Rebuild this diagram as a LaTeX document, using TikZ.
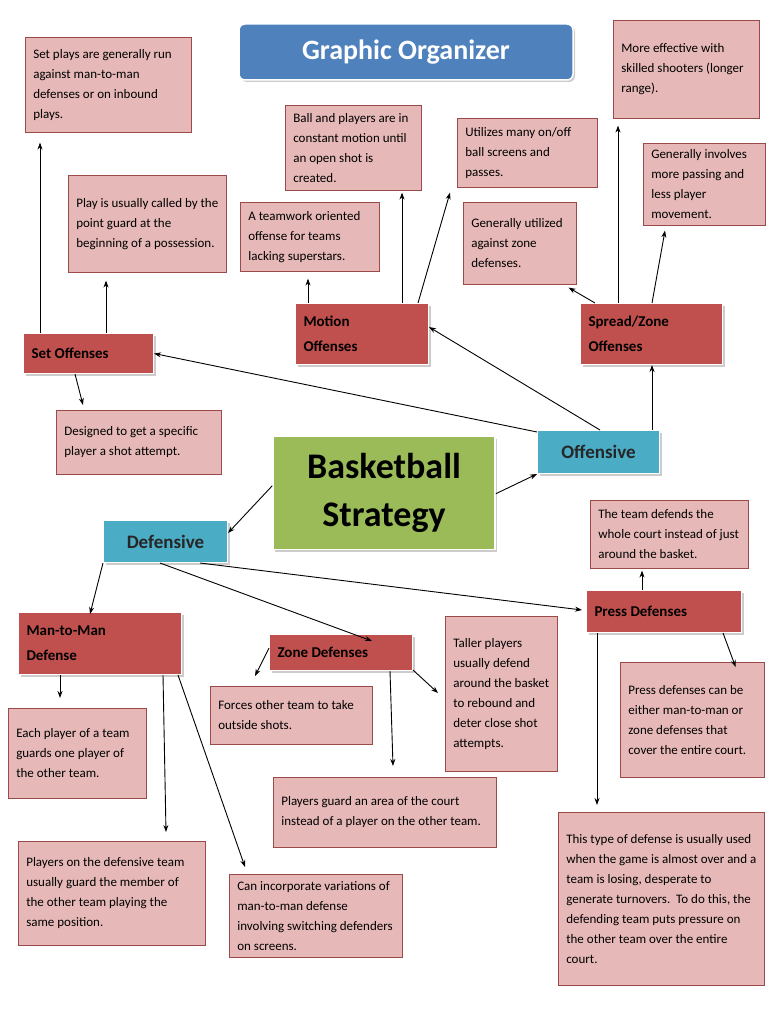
\documentclass[tikz,border=0pt]{standalone}
\usepackage{fontspec}
\setmainfont{Carlito}
\usetikzlibrary{shadows,arrows.meta}
\definecolor{pinkf}{HTML}{E6B9B8}
\definecolor{pinkd}{HTML}{9A4A48}
\definecolor{redf}{HTML}{C0504D}
\definecolor{bluef}{HTML}{4BACC6}
\definecolor{greenf}{HTML}{9BBB59}
\definecolor{titlef}{HTML}{4F81BD}
\tikzset{
 note/.style={draw=pinkd,fill=pinkf,line width=0.6pt,anchor=north west,align=left,inner sep=0pt,font=\fontsize{13}{20}\selectfont},
 cat/.style={draw=white,line width=1pt,fill=redf,anchor=north west,align=left,inner sep=0pt,font=\fontsize{15}{25}\selectfont\bfseries,drop shadow={opacity=0.4,shadow xshift=2pt,shadow yshift=-2pt}},
 side/.style={draw=white,line width=1pt,fill=bluef,anchor=north west,align=center,inner sep=0pt,font=\fontsize{19}{24}\selectfont\bfseries,text=black!85,drop shadow={opacity=0.4,shadow xshift=2pt,shadow yshift=-2pt}},
 arr/.style={-{Stealth[length=7pt,width=5pt]},line width=0.9pt}
}
% \bx{style}{name}{x1}{y1}{x2}{y2}{text}
\newcommand\bx[7]{\node[#1,minimum width=\dimexpr #5pt-#3pt\relax,minimum height=\dimexpr #6pt-#4pt\relax] (#2) at (#3,#4)
 {\begin{minipage}[c][\dimexpr #6pt-#4pt-12pt\relax][c]{\dimexpr #5pt-#3pt-16pt\relax}\raggedright #7\end{minipage}};}
\begin{document}
\begin{tikzpicture}[x=1pt,y=-1pt]
\useasboundingbox (0,0) rectangle (768,1024);
\fill[white] (0,0) rectangle (768,1024);
% title
\node[draw=white,line width=1.5pt,fill=titlef,rounded corners=6pt,minimum width=334pt,minimum height=56pt,text=white,font=\fontsize{28}{30}\selectfont\bfseries,drop shadow={opacity=0.4,shadow xshift=2pt,shadow yshift=-2pt}] (title) at (406,52) {Graphic Organizer};
% center
\node[draw=white,line width=1.5pt,fill=greenf,minimum width=222pt,minimum height=113pt,align=center,font=\fontsize{36}{48}\selectfont\bfseries,drop shadow={opacity=0.4,shadow xshift=2pt,shadow yshift=-2pt}] (center) at (384,493) {Basketball\\Strategy};
\node[side,minimum width=122pt,minimum height=43pt] (off) at (537,430) {Offensive};
\node[side,minimum width=124pt,minimum height=42pt] (def) at (103,520) {Defensive};
% red category boxes
\bx{cat}{setoff}{23}{333}{153}{373}{Set Offenses}
\bx{cat}{motion}{295}{303}{428}{364}{Motion\\Offenses}
\bx{cat}{spread}{580}{303}{722}{364}{Spread/Zone\\Offenses}
\bx{cat}{man}{18}{612}{181}{674}{Man-to-Man\\Defense}
\bx{cat}{zone}{269}{634}{412}{670}{Zone Defenses}
\bx{cat}{press}{586}{590}{741}{632}{Press Defenses}
% notes
\bx{note}{n1}{25}{37}{191}{132}{Set plays are generally run against man-to-man defenses or on inbound plays.}
\bx{note}{n2}{68}{175}{226}{272}{Play is usually called by the point guard at the beginning of a possession.}
\bx{note}{n3}{56}{410}{221}{474}{Designed to get a specific player a shot attempt.}
\bx{note}{n4}{285}{105}{421}{190}{Ball and players are in constant motion until an open shot is created.}
\bx{note}{n5}{240}{202}{379}{271}{A teamwork oriented offense for teams lacking superstars.}
\bx{note}{n6}{457}{118}{597}{187}{Utilizes many on/off ball screens and passes.}
\bx{note}{n7}{463}{202}{576}{284}{Generally utilized against zone defenses.}
\bx{note}{n8}{613}{20}{759}{118}{More effective with skilled shooters (longer range).}
\bx{note}{n9}{643}{143}{765}{225}{Generally involves more passing and less player movement.}
\bx{note}{n10}{590}{500}{748}{568}{The team defends the whole court instead of just around the basket.}
\bx{note}{n11}{620}{662}{764}{777}{Press defenses can be either man-to-man or zone defenses that cover the entire court.}
\bx{note}{n12}{558}{812}{764}{985}{This type of defense is usually used when the game is almost over and a team is losing, desperate to generate turnovers.\ \ To do this, the defending team puts pressure on the other team over the entire court.}
\bx{note}{n13}{445}{616}{557}{771}{Taller players usually defend around the basket to rebound and deter close shot attempts.}
\bx{note}{n14}{210}{686}{372}{744}{Forces other team to take outside shots.}
\bx{note}{n15}{273}{777}{496}{847}{Players guard an area of the court instead of a player on the other team.}
\bx{note}{n16}{8}{708}{146}{798}{Each player of a team guards one player of the other team.}
\bx{note}{n17}{18}{841}{205}{945}{Players on the defensive team usually guard the member of the other team playing the same position.}
\bx{note}{n18}{229}{874}{402}{957}{Can incorporate variations of man-to-man defense involving switching defenders on screens.}
% arrows
\draw[arr] ([xshift=17pt]setoff.north west) -- ([xshift=15pt,yshift=-10pt]n1.south west);
\draw[arr] ([xshift=83pt]setoff.north west) -- ([xshift=38pt,yshift=-8pt]n2.south west);
\draw[arr] ([xshift=52pt]setoff.south west) -- ([xshift=27pt,yshift=5pt]n3.north west);
\draw[arr] ([yshift=-2pt]off.north west) -- (setoff.east);
\draw[arr] ([xshift=63pt]off.north west) -- ([yshift=-24pt]motion.north east);
\draw[arr] ([xshift=115pt]off.north west) -- ([xshift=72pt]spread.south west);
\draw[arr] ([xshift=13pt]motion.north west) -- ([xshift=68pt,yshift=-7pt]n5.south west);
\draw[arr] ([xshift=107pt]motion.north west) -- ([xshift=117pt,yshift=-2pt]n4.south west);
\draw[arr] ([xshift=123pt]motion.north west) -- ([xshift=-7pt,yshift=-5pt]n6.south west);
\draw[arr] ([xshift=15pt]spread.north west) -- ([xshift=-8pt,yshift=-3pt]n7.south east);
\draw[arr] ([xshift=38pt]spread.north west) -- ([xshift=5pt,yshift=-7pt]n8.south west);
\draw[arr] ([xshift=72pt]spread.north west) -- ([xshift=22pt,yshift=-5pt]n9.south west);
\draw[arr] ([yshift=-50pt]center.north west) -- ([yshift=-13pt]def.north east);
\draw[arr] ([yshift=-58pt]center.north east) -- ([yshift=0pt]off.south west);
\draw[arr] (def.south west) -- ([xshift=72pt,yshift=-2pt]man.north west);
\draw[arr] ([xshift=57pt]def.south west) -- ([xshift=103pt,yshift=-7pt]zone.north west);
\draw[arr] ([xshift=97pt]def.south west) -- ([xshift=-4pt,yshift=-20pt]press.north west);
\draw[arr] ([xshift=56pt]press.north west) -- ([xshift=52pt,yshift=-2pt]n10.south west);
\draw[arr] ([xshift=-19pt]press.south east) -- ([xshift=-29pt,yshift=-5pt]n11.north east);
\draw[arr] ([xshift=11pt]press.south west) -- ([xshift=39pt,yshift=7pt]n12.north west);
\draw[arr] ([yshift=-14pt]zone.north west) -- ([xshift=45pt,yshift=10pt]n14.north west);
\draw[arr] ([xshift=121pt]zone.south west) -- ([xshift=120pt,yshift=11pt]n15.north west);
\draw[arr] ([yshift=-36pt]zone.north east) -- ([xshift=-7pt,yshift=-77pt]n13.north west);
\draw[arr] ([xshift=42pt]man.south west) -- ([xshift=52pt,yshift=10pt]n16.north west);
\draw[arr] ([xshift=145pt]man.south west) -- ([xshift=148pt,yshift=9pt]n17.north west);
\draw[arr] ([xshift=160pt]man.south west) -- ([xshift=16pt,yshift=7pt]n18.north west);
\end{tikzpicture}
\end{document}
